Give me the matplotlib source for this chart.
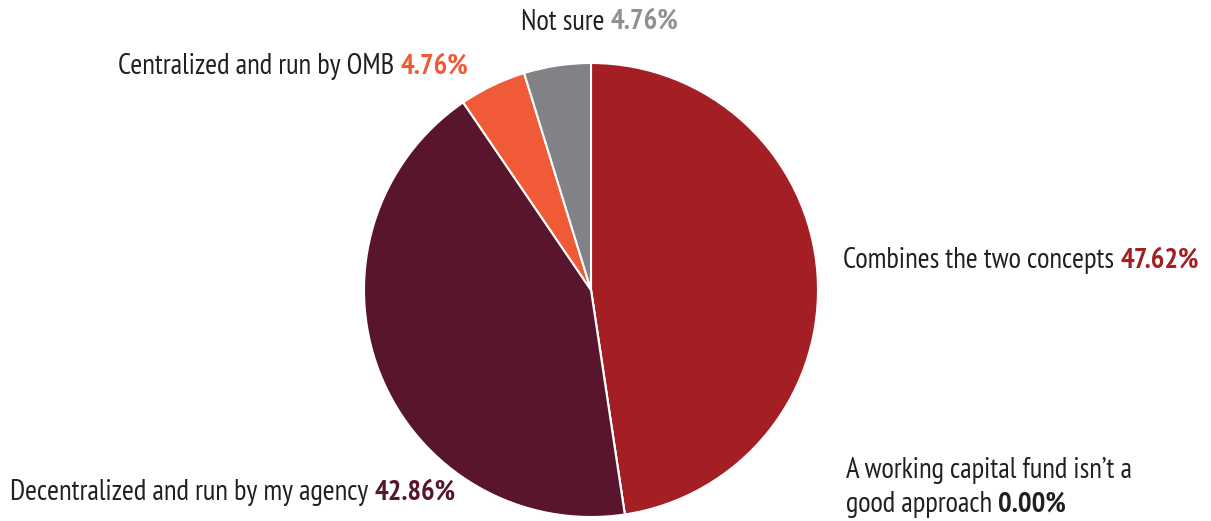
import matplotlib
matplotlib.use("Agg")
import matplotlib.pyplot as plt

# Survey responses: preferred model for a working capital fund
categories = [
    "Combines the two concepts",
    "A working capital fund isn\u2019t a\ngood approach",
    "Decentralized and run by my agency",
    "Centralized and run by OMB",
    "Not sure",
]
shares = [47.62, 0.00, 42.86, 4.76, 4.76]
wedge_colors = ["#A31F23", "#FFFFFF", "#59142E", "#F15A36", "#808285"]
pct_colors = ["#A31F23", "#231F20", "#59142E", "#F15A36", "#8E9093"]

# label anchor (left edge, vertical centre of the last line), in pixel units
label_pos = [(843, 261), (846, 505), (10, 493), (118, 67), (521, 22)]

W, H = 1211, 521
fig = plt.figure(figsize=(W / 100, H / 100), dpi=100)
ax = fig.add_axes([0, 0, 1, 1])

family = ["PT Sans Narrow", "DejaVu Sans"]
fs = 20.6

# y grows downward here, so start at -90 (visual top) and run counterclockwise
# in data space, which reads clockwise on the page
ax.pie(shares, colors=wedge_colors, startangle=-90, counterclock=True,
       center=(591, 290), radius=227, frame=True,
       wedgeprops=dict(edgecolor="white", linewidth=1.5))
ax.set_xlim(0, W)
ax.set_ylim(H, 0)
ax.set_aspect("equal")
ax.axis("off")

for name, val, pc, (x, y) in zip(categories, shares, pct_colors, label_pos):
    lines = name.split("\n")
    # earlier lines of a wrapped label sit above the last one
    for i, ln in enumerate(lines[:-1]):
        ax.text(x, y - 35 * (len(lines) - 1 - i), ln, fontsize=fs, family=family,
                color="#231F20", ha="left", va="center")
    t = ax.text(x, y, lines[-1] + " ", fontsize=fs, family=family,
                color="#231F20", ha="left", va="center")
    ax.annotate(f"{val:.2f}%", xy=(1, 0.5), xycoords=t, fontsize=fs,
                family=family, fontweight="bold", color=pc,
                ha="left", va="center")

fig.savefig("out.png", dpi=100)
